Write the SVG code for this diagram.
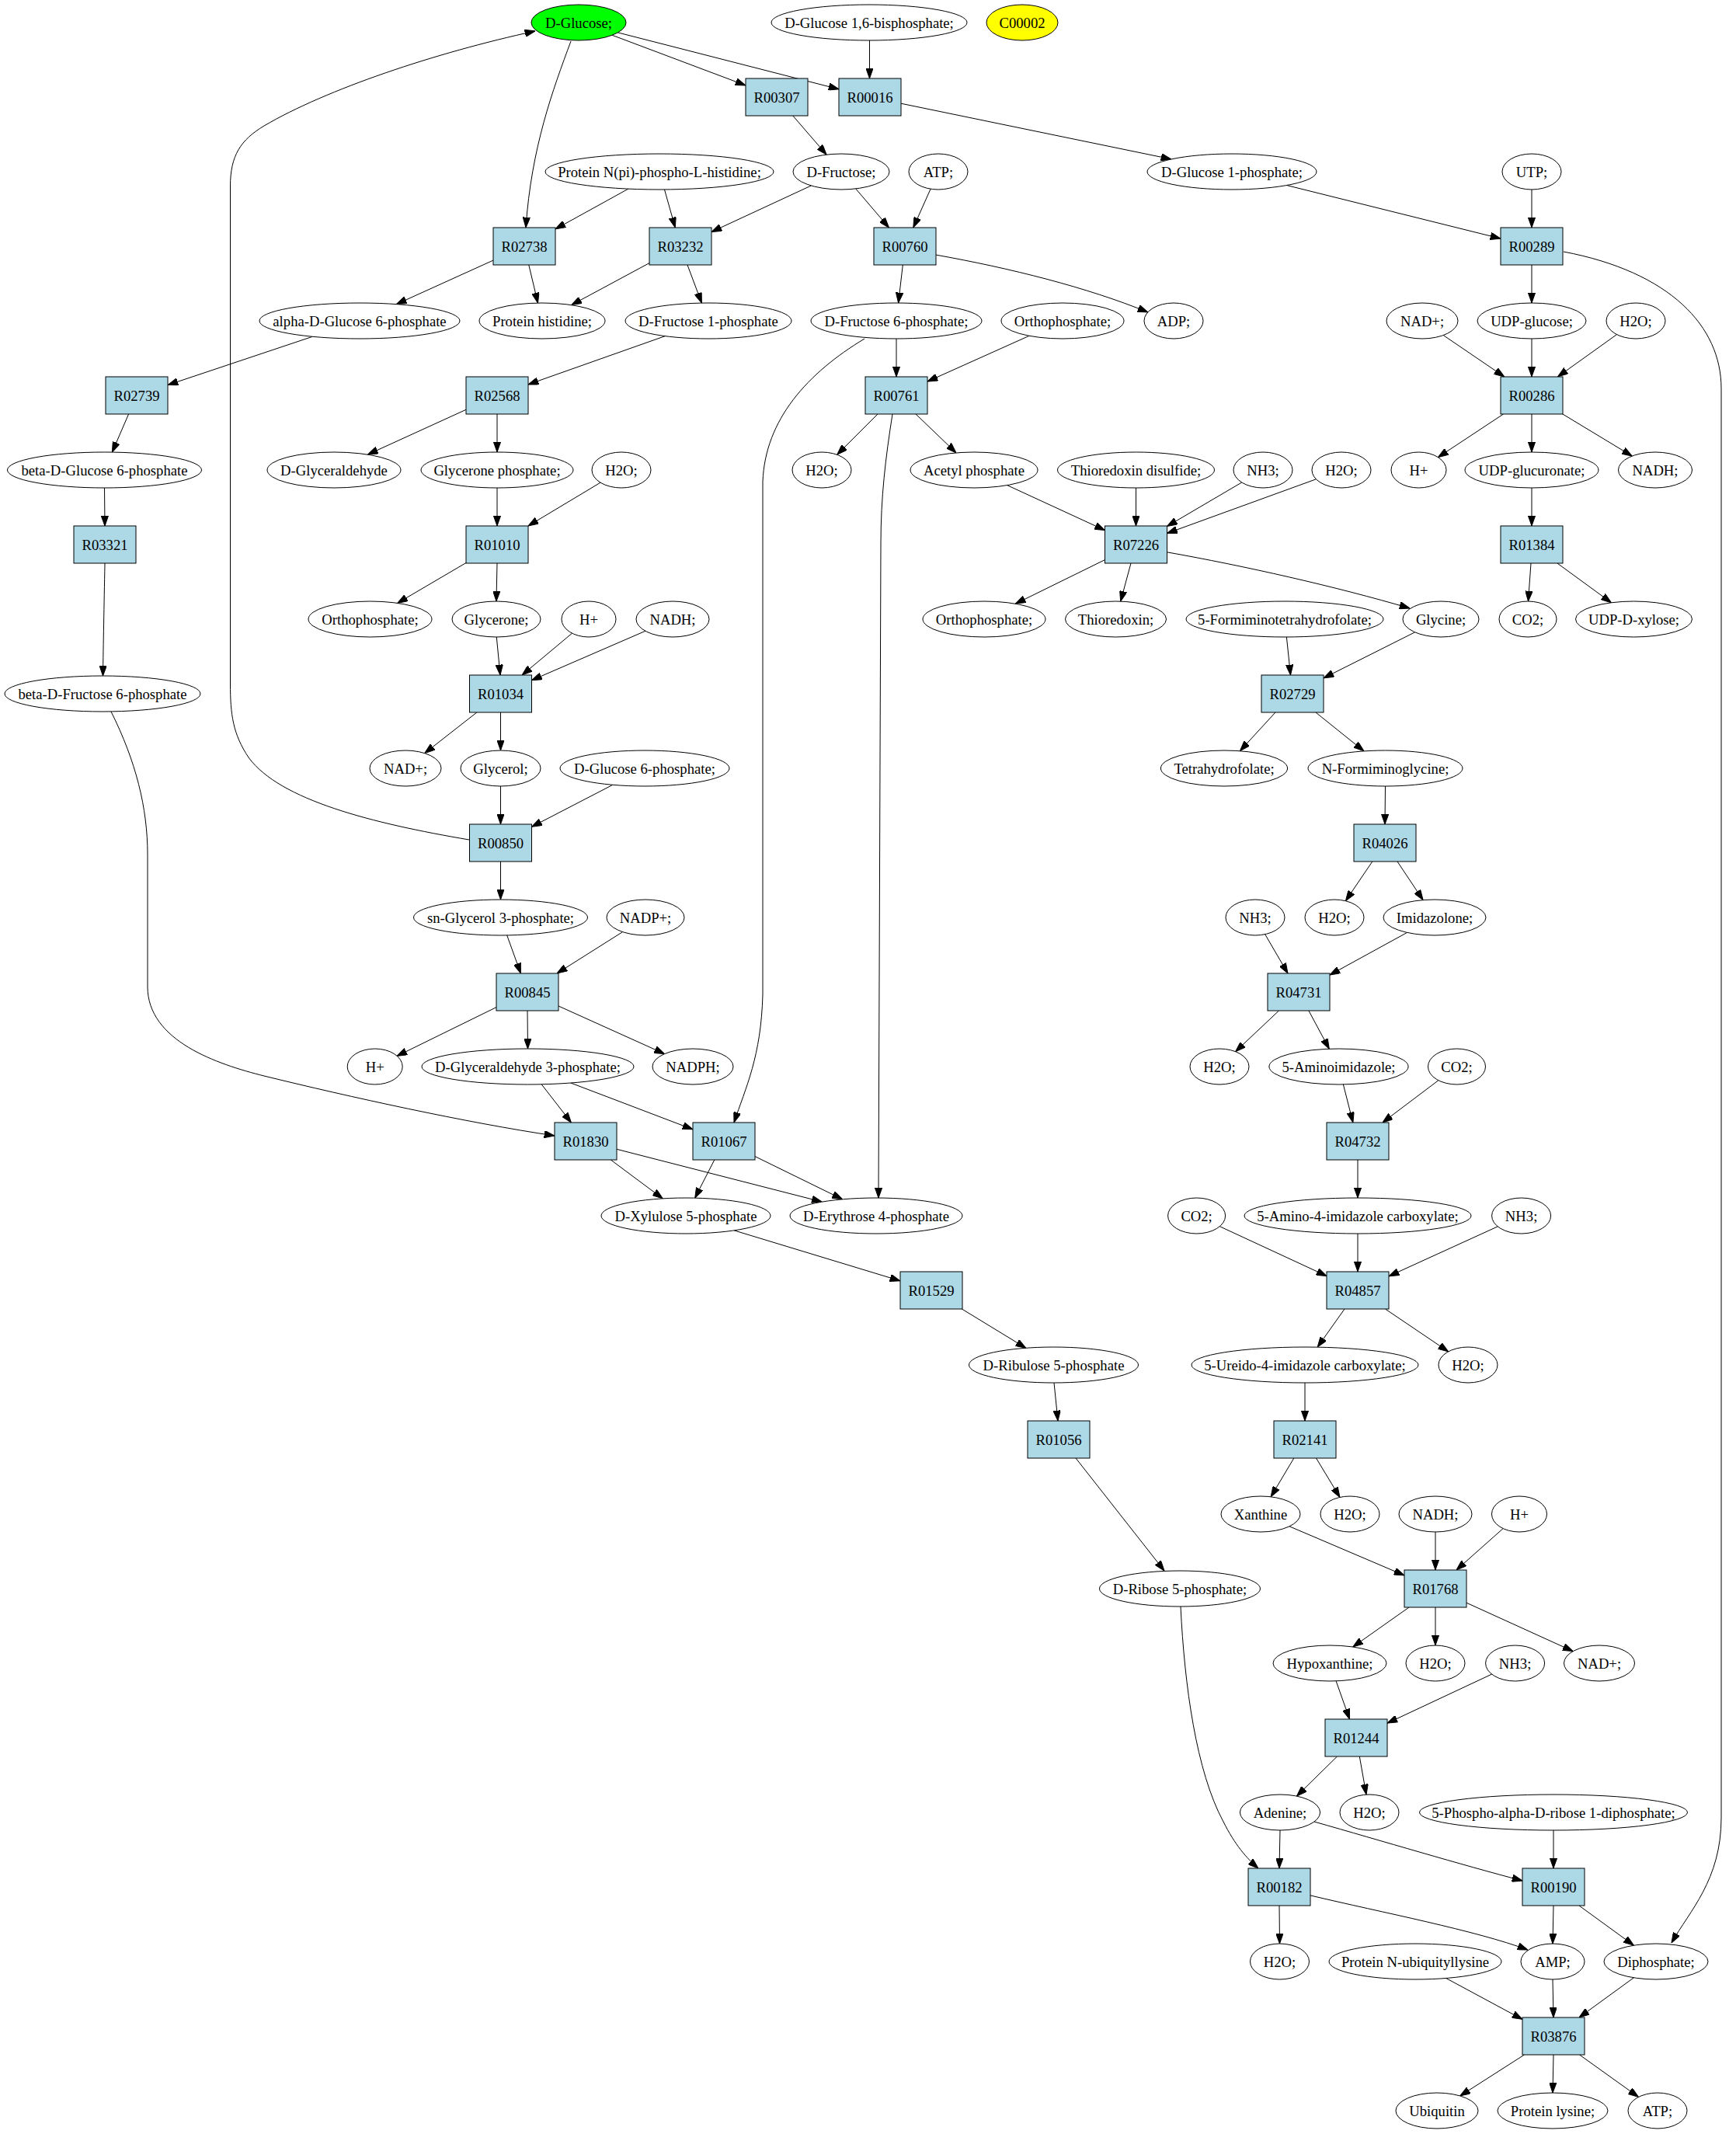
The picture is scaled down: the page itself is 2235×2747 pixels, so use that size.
<svg xmlns="http://www.w3.org/2000/svg" width="2235" height="2747" viewBox="0 0 2235 2747">
<style>
.c ellipse{fill:#fff;stroke:#000;stroke-width:1}
.r rect{fill:#add8e6;stroke:#000;stroke-width:1}
text{font-family:"Liberation Serif","Times New Roman",serif;font-size:18.67px;text-anchor:middle;fill:#000}
#edges path{stroke:#000;stroke-width:1;fill:none;marker-end:url(#a)}
</style>
<defs>
<marker id="a" viewBox="0 0 13.3 9.4" markerWidth="13.3" markerHeight="9.4" refX="13.3" refY="4.7" orient="auto" markerUnits="userSpaceOnUse"><path d="M0,0 L13.3,4.7 L0,9.4 z" fill="#000" stroke="#000" stroke-width="1"/></marker>
</defs>
<rect width="2235" height="2747" fill="#fff"/>
<g id="edges">
<path d="M788.2,45.3 L960,109.9"/>
<path d="M795.5,41.9 L1080,114.8"/>
<path d="M735,53 C712,115 684,190 677,293"/>
<path d="M1119.5,52 L1119.5,101"/>
<path d="M1160,133.2 L1508,204.9"/>
<path d="M1020.8,149 L1064.1,199.1"/>
<path d="M808.9,243.1 L715,294.9"/>
<path d="M855.5,244 L869.3,293"/>
<path d="M1044.3,239 L916,298.5"/>
<path d="M1101.7,242.9 L1144.5,293"/>
<path d="M1198.1,243.2 L1175.8,293"/>
<path d="M1656.5,238.5 L1932,307.1"/>
<path d="M1972,244 L1972,293"/>
<path d="M635,335.1 L510.3,391.6"/>
<path d="M680.8,341 L692.5,390.1"/>
<path d="M836,338.6 L735.7,392.6"/>
<path d="M885,341 L903.4,390.1"/>
<path d="M1162.3,341 L1156.6,390"/>
<path d="M1205,328.1 C1300,345 1400,370 1478,402"/>
<path d="M1972,341 L1972,390"/>
<path d="M2013,324 C2150,350 2216,420 2216,500 L2216,2340 C2216,2420 2175,2460 2152,2501"/>
<path d="M402.3,433.3 L216,495.6"/>
<path d="M856.3,432.6 L680,494.9"/>
<path d="M1154,436 L1154,485"/>
<path d="M1113,436 C1040,480 985,540 982,620 L982,1280 C980,1360 960,1400 945,1445"/>
<path d="M1325,432.3 L1194,491.1"/>
<path d="M1858.2,431.5 L1936.8,485"/>
<path d="M1972,436 L1972,485"/>
<path d="M2081.5,430.6 L2005.5,485"/>
<path d="M165.6,533 L144.4,582.1"/>
<path d="M600,527.3 L473.4,585.1"/>
<path d="M640,533 L640,582"/>
<path d="M1130,533 L1077.7,585.3"/>
<path d="M1179,533 L1231,582.9"/>
<path d="M1149,533 C1140,590 1134,640 1134,700 L1131,1542"/>
<path d="M1935.6,533 L1851.4,588.6"/>
<path d="M1972,533 L1972,582"/>
<path d="M2011.8,533 L2101.3,587.1"/>
<path d="M134.5,628 L135,677"/>
<path d="M640,628 L640,677"/>
<path d="M773,621.2 L680,677"/>
<path d="M1296.7,624.6 L1422.5,682.6"/>
<path d="M1462.5,628 L1462.5,677"/>
<path d="M1598.7,621 L1502.5,677.5"/>
<path d="M1694.4,616.8 L1502.5,686.5"/>
<path d="M1972,628 L1972,677"/>
<path d="M135,725 C134,780 133,830 132.5,870"/>
<path d="M600,724.5 L511.6,776.4"/>
<path d="M640,725 L639,774"/>
<path d="M1422.5,720.6 L1307.3,777.2"/>
<path d="M1456,725 L1442.7,774.1"/>
<path d="M1502.5,710.8 C1600,728 1720,755 1815,783"/>
<path d="M1971,725 L1967.5,774"/>
<path d="M2004.9,725 L2074.5,775.8"/>
<path d="M639.3,820 L644,869"/>
<path d="M736.5,815.2 L672.1,869"/>
<path d="M830.8,812.3 L684.5,875.7"/>
<path d="M1656.4,820 L1661.5,869"/>
<path d="M1821.6,813.8 L1704,872.9"/>
<path d="M143,916 C175,980 190,1040 190,1100 L190,1270 C190,1340 280,1370 340,1385 C450,1412 600,1445 714,1462"/>
<path d="M613.9,917 L546.7,969.6"/>
<path d="M644.5,917 L644.5,966"/>
<path d="M1642,917 L1596.4,966.7"/>
<path d="M1693.9,917 L1756,966.9"/>
<path d="M644.5,1012 L644.5,1061"/>
<path d="M788.8,1010.3 L684.5,1064.3"/>
<path d="M1783.5,1012 L1783,1061"/>
<path d="M604,1081 C480,1060 360,1030 320,975 C300,945 296.5,920 296.5,880 L296.5,240 C296.5,200 310,180 340,162 C420,115 560,68 689,40"/>
<path d="M644.5,1109 L644.5,1158"/>
<path d="M1766.8,1109 L1732.4,1159.7"/>
<path d="M1799,1109 L1832.1,1158.6"/>
<path d="M652.7,1203.9 L670.4,1253"/>
<path d="M801.6,1199.6 L717,1253"/>
<path d="M1628.7,1202.7 L1658,1253"/>
<path d="M1811.6,1200.4 L1712,1255"/>
<path d="M639,1296.6 L511,1359.4"/>
<path d="M679,1301 L679.5,1350"/>
<path d="M719,1295 L855.6,1356.6"/>
<path d="M1646.5,1301 L1590.6,1353.7"/>
<path d="M1684.9,1301 L1711.3,1350.2"/>
<path d="M697.2,1395.8 L735.4,1445"/>
<path d="M734.8,1394 L892,1453.8"/>
<path d="M1729.4,1396 L1741.9,1445"/>
<path d="M1851.9,1390.7 L1779.9,1445"/>
<path d="M786.3,1493 L853.3,1542.9"/>
<path d="M794,1479.3 L1058.3,1547.1"/>
<path d="M919.8,1493 L894.7,1542.1"/>
<path d="M972,1488.6 L1084.7,1543.8"/>
<path d="M1748,1493 L1748,1542"/>
<path d="M945.2,1583.9 L1159,1648.8"/>
<path d="M1570.3,1578.7 L1708,1642.5"/>
<path d="M1748,1588 L1748,1637"/>
<path d="M1928.3,1578.8 L1788,1642.8"/>
<path d="M1238.4,1685 L1320.8,1735.3"/>
<path d="M1731,1685 L1696.2,1734.1"/>
<path d="M1783.5,1685 L1864.7,1739.9"/>
<path d="M1357,1780 L1362,1829"/>
<path d="M1680,1780 L1680,1829"/>
<path d="M1385,1877 L1499,2022"/>
<path d="M1665.8,1877 L1636.2,1926.8"/>
<path d="M1694.5,1877 L1725,1927.4"/>
<path d="M1660,1964.8 L1808,2027.9"/>
<path d="M1848,1972 L1848,2021"/>
<path d="M1935.1,1967.6 L1875,2021"/>
<path d="M1520,2068 C1525,2170 1540,2280 1575,2345 C1590,2375 1605,2392 1620,2405"/>
<path d="M1814,2069 L1741.8,2120"/>
<path d="M1848,2069 L1848,2118"/>
<path d="M1888,2063.2 L2025.2,2125.6"/>
<path d="M1720.1,2163.9 L1737.5,2213"/>
<path d="M1920.6,2155.1 L1786,2218.2"/>
<path d="M1721.5,2261 L1669.4,2312.1"/>
<path d="M1750.3,2261 L1759,2310.1"/>
<path d="M1648,2356 L1647,2405"/>
<path d="M1692,2345 C1780,2370 1880,2400 1960,2421"/>
<path d="M2000,2356 L2000,2405"/>
<path d="M1647,2453 L1647.5,2502"/>
<path d="M1687,2439.9 C1780,2462 1900,2485 1967,2510"/>
<path d="M2000,2453 L1999,2502"/>
<path d="M2033,2453 L2103.4,2504.2"/>
<path d="M1861.8,2546.5 L1960,2599.4"/>
<path d="M1999,2548 L2000,2597"/>
<path d="M2103.4,2545.8 L2033,2597"/>
<path d="M1962.5,2645 L1879.7,2698"/>
<path d="M2000,2645 L1999,2694"/>
<path d="M2033.5,2645 L2109.5,2699.4"/>
</g>
<g id="n_dglucose" class="c"><ellipse cx="745" cy="29" rx="61" ry="23" style="fill:#00ff00"/><text x="745" y="35.5">D-Glucose;</text></g>
<g id="n_dglucose16bp" class="c"><ellipse cx="1119" cy="29" rx="126" ry="23"/><text x="1119" y="35.5">D-Glucose 1,6-bisphosphate;</text></g>
<g id="n_c00002" class="c"><ellipse cx="1316" cy="29" rx="46" ry="23" style="fill:#ffff00"/><text x="1316" y="35.5">C00002</text></g>
<g id="n_R00307" class="r"><rect x="960" y="101" width="80" height="48"/><text x="1000" y="131.5">R00307</text></g>
<g id="n_R00016" class="r"><rect x="1080" y="101" width="80" height="48"/><text x="1120" y="131.5">R00016</text></g>
<g id="n_protnpi" class="c"><ellipse cx="849" cy="221" rx="147" ry="23"/><text x="849" y="227.5">Protein N(pi)-phospho-L-histidine;</text></g>
<g id="n_dfructose" class="c"><ellipse cx="1083" cy="221" rx="62" ry="23"/><text x="1083" y="227.5">D-Fructose;</text></g>
<g id="n_atp1" class="c"><ellipse cx="1208" cy="221" rx="38" ry="23"/><text x="1208" y="227.5">ATP;</text></g>
<g id="n_dglucose1p" class="c"><ellipse cx="1586" cy="221" rx="109" ry="23"/><text x="1586" y="227.5">D-Glucose 1-phosphate;</text></g>
<g id="n_utp" class="c"><ellipse cx="1972" cy="221" rx="38" ry="23"/><text x="1972" y="227.5">UTP;</text></g>
<g id="n_R02738" class="r"><rect x="635" y="293" width="80" height="48"/><text x="675" y="323.5">R02738</text></g>
<g id="n_R03232" class="r"><rect x="836" y="293" width="80" height="48"/><text x="876" y="323.5">R03232</text></g>
<g id="n_R00760" class="r"><rect x="1125" y="293" width="80" height="48"/><text x="1165" y="323.5">R00760</text></g>
<g id="n_R00289" class="r"><rect x="1932" y="293" width="80" height="48"/><text x="1972" y="323.5">R00289</text></g>
<g id="n_alphag6p" class="c"><ellipse cx="463" cy="413" rx="129" ry="23"/><text x="463" y="419.5">alpha-D-Glucose 6-phosphate</text></g>
<g id="n_prothis" class="c"><ellipse cx="698" cy="413" rx="81" ry="23"/><text x="698" y="419.5">Protein histidine;</text></g>
<g id="n_dfru1p" class="c"><ellipse cx="912" cy="413" rx="107" ry="23"/><text x="912" y="419.5">D-Fructose 1-phosphate</text></g>
<g id="n_dfru6p" class="c"><ellipse cx="1154" cy="413" rx="110" ry="23"/><text x="1154" y="419.5">D-Fructose 6-phosphate;</text></g>
<g id="n_ortho1" class="c"><ellipse cx="1368" cy="413" rx="79" ry="23"/><text x="1368" y="419.5">Orthophosphate;</text></g>
<g id="n_adp" class="c"><ellipse cx="1511" cy="413" rx="38" ry="23"/><text x="1511" y="419.5">ADP;</text></g>
<g id="n_nad1" class="c"><ellipse cx="1831" cy="413" rx="46" ry="23"/><text x="1831" y="419.5">NAD+;</text></g>
<g id="n_udpglc" class="c"><ellipse cx="1972" cy="413" rx="70" ry="23"/><text x="1972" y="419.5">UDP-glucose;</text></g>
<g id="n_h2o1" class="c"><ellipse cx="2106" cy="413" rx="38" ry="23"/><text x="2106" y="419.5">H2O;</text></g>
<g id="n_R02739" class="r"><rect x="136" y="485" width="80" height="48"/><text x="176" y="515.5">R02739</text></g>
<g id="n_R02568" class="r"><rect x="600" y="485" width="80" height="48"/><text x="640" y="515.5">R02568</text></g>
<g id="n_R00761" class="r"><rect x="1114" y="485" width="80" height="48"/><text x="1154" y="515.5">R00761</text></g>
<g id="n_R00286" class="r"><rect x="1932" y="485" width="80" height="48"/><text x="1972" y="515.5">R00286</text></g>
<g id="n_betag6p" class="c"><ellipse cx="134.5" cy="605" rx="125" ry="23"/><text x="134.5" y="611.5">beta-D-Glucose 6-phosphate</text></g>
<g id="n_dglyald" class="c"><ellipse cx="430" cy="605" rx="86" ry="23"/><text x="430" y="611.5">D-Glyceraldehyde</text></g>
<g id="n_glyp" class="c"><ellipse cx="640" cy="605" rx="98" ry="23"/><text x="640" y="611.5">Glycerone phosphate;</text></g>
<g id="n_h2o2" class="c"><ellipse cx="800" cy="605" rx="38" ry="23"/><text x="800" y="611.5">H2O;</text></g>
<g id="n_h2o3" class="c"><ellipse cx="1058" cy="605" rx="38" ry="23"/><text x="1058" y="611.5">H2O;</text></g>
<g id="n_acetylp" class="c"><ellipse cx="1254" cy="605" rx="82" ry="23"/><text x="1254" y="611.5">Acetyl phosphate</text></g>
<g id="n_thiodis" class="c"><ellipse cx="1462.5" cy="605" rx="101" ry="23"/><text x="1462.5" y="611.5">Thioredoxin disulfide;</text></g>
<g id="n_nh3_1" class="c"><ellipse cx="1626" cy="605" rx="38" ry="23"/><text x="1626" y="611.5">NH3;</text></g>
<g id="n_h2o4" class="c"><ellipse cx="1727" cy="605" rx="38" ry="23"/><text x="1727" y="611.5">H2O;</text></g>
<g id="n_hplus1" class="c"><ellipse cx="1826.5" cy="605" rx="35.5" ry="23"/><text x="1826.5" y="611.5">H+</text></g>
<g id="n_udpglcur" class="c"><ellipse cx="1972" cy="605" rx="86" ry="23"/><text x="1972" y="611.5">UDP-glucuronate;</text></g>
<g id="n_nadh1" class="c"><ellipse cx="2131" cy="605" rx="47.5" ry="23"/><text x="2131" y="611.5">NADH;</text></g>
<g id="n_R03321" class="r"><rect x="95" y="677" width="80" height="48"/><text x="135" y="707.5">R03321</text></g>
<g id="n_R01010" class="r"><rect x="600" y="677" width="80" height="48"/><text x="640" y="707.5">R01010</text></g>
<g id="n_R07226" class="r"><rect x="1422.5" y="677" width="80" height="48"/><text x="1462.5" y="707.5">R07226</text></g>
<g id="n_R01384" class="r"><rect x="1932" y="677" width="80" height="48"/><text x="1972" y="707.5">R01384</text></g>
<g id="n_ortho2" class="c"><ellipse cx="476.5" cy="797" rx="79.5" ry="23"/><text x="476.5" y="803.5">Orthophosphate;</text></g>
<g id="n_glycerone" class="c"><ellipse cx="639" cy="797" rx="57" ry="23"/><text x="639" y="803.5">Glycerone;</text></g>
<g id="n_hplus2" class="c"><ellipse cx="758" cy="797" rx="35" ry="23"/><text x="758" y="803.5">H+</text></g>
<g id="n_nadh2" class="c"><ellipse cx="866" cy="797" rx="47" ry="23"/><text x="866" y="803.5">NADH;</text></g>
<g id="n_ortho3" class="c"><ellipse cx="1267" cy="797" rx="79" ry="23"/><text x="1267" y="803.5">Orthophosphate;</text></g>
<g id="n_thio" class="c"><ellipse cx="1436.5" cy="797" rx="65" ry="23"/><text x="1436.5" y="803.5">Thioredoxin;</text></g>
<g id="n_fthf" class="c"><ellipse cx="1654" cy="797" rx="127" ry="23"/><text x="1654" y="803.5">5-Formiminotetrahydrofolate;</text></g>
<g id="n_glycine" class="c"><ellipse cx="1855" cy="797" rx="49" ry="23"/><text x="1855" y="803.5">Glycine;</text></g>
<g id="n_co2_1" class="c"><ellipse cx="1967" cy="797" rx="37" ry="23"/><text x="1967" y="803.5">CO2;</text></g>
<g id="n_udpxyl" class="c"><ellipse cx="2103.5" cy="797" rx="75" ry="23"/><text x="2103.5" y="803.5">UDP-D-xylose;</text></g>
<g id="n_betaf6p" class="c"><ellipse cx="132" cy="893" rx="126" ry="23"/><text x="132" y="899.5">beta-D-Fructose 6-phosphate</text></g>
<g id="n_R01034" class="r"><rect x="604.5" y="869" width="80" height="48"/><text x="644.5" y="899.5">R01034</text></g>
<g id="n_R02729" class="r"><rect x="1624" y="869" width="80" height="48"/><text x="1664" y="899.5">R02729</text></g>
<g id="n_nad2" class="c"><ellipse cx="522" cy="989" rx="46" ry="23"/><text x="522" y="995.5">NAD+;</text></g>
<g id="n_glycerol" class="c"><ellipse cx="644.5" cy="989" rx="51.5" ry="23"/><text x="644.5" y="995.5">Glycerol;</text></g>
<g id="n_dg6p" class="c"><ellipse cx="830" cy="989" rx="109" ry="23"/><text x="830" y="995.5">D-Glucose 6-phosphate;</text></g>
<g id="n_thf" class="c"><ellipse cx="1576" cy="989" rx="81.6" ry="23"/><text x="1576" y="995.5">Tetrahydrofolate;</text></g>
<g id="n_nfgly" class="c"><ellipse cx="1783.5" cy="989" rx="99.5" ry="23"/><text x="1783.5" y="995.5">N-Formiminoglycine;</text></g>
<g id="n_R00850" class="r"><rect x="604.5" y="1061" width="80" height="48"/><text x="644.5" y="1091.5">R00850</text></g>
<g id="n_R04026" class="r"><rect x="1743" y="1061" width="80" height="48"/><text x="1783" y="1091.5">R04026</text></g>
<g id="n_sng3p" class="c"><ellipse cx="644.5" cy="1181" rx="112" ry="23"/><text x="644.5" y="1187.5">sn-Glycerol 3-phosphate;</text></g>
<g id="n_nadp" class="c"><ellipse cx="831" cy="1181" rx="50" ry="23"/><text x="831" y="1187.5">NADP+;</text></g>
<g id="n_nh3_2" class="c"><ellipse cx="1616" cy="1181" rx="38" ry="23"/><text x="1616" y="1187.5">NH3;</text></g>
<g id="n_h2o5" class="c"><ellipse cx="1718" cy="1181" rx="38" ry="23"/><text x="1718" y="1187.5">H2O;</text></g>
<g id="n_imidazolone" class="c"><ellipse cx="1847" cy="1181" rx="66" ry="23"/><text x="1847" y="1187.5">Imidazolone;</text></g>
<g id="n_R00845" class="r"><rect x="639" y="1253" width="80" height="48"/><text x="679" y="1283.5">R00845</text></g>
<g id="n_R04731" class="r"><rect x="1632" y="1253" width="80" height="48"/><text x="1672" y="1283.5">R04731</text></g>
<g id="n_hplus3" class="c"><ellipse cx="482.7" cy="1373" rx="35.5" ry="23"/><text x="482.7" y="1379.5">H+</text></g>
<g id="n_dga3p" class="c"><ellipse cx="679.5" cy="1373" rx="136.5" ry="23"/><text x="679.5" y="1379.5">D-Glyceraldehyde 3-phosphate;</text></g>
<g id="n_nadph" class="c"><ellipse cx="892" cy="1373" rx="52" ry="23"/><text x="892" y="1379.5">NADPH;</text></g>
<g id="n_h2o6" class="c"><ellipse cx="1570" cy="1373" rx="38" ry="23"/><text x="1570" y="1379.5">H2O;</text></g>
<g id="n_5ai" class="c"><ellipse cx="1723.5" cy="1373" rx="89.6" ry="23"/><text x="1723.5" y="1379.5">5-Aminoimidazole;</text></g>
<g id="n_co2_2" class="c"><ellipse cx="1875.5" cy="1373" rx="37" ry="23"/><text x="1875.5" y="1379.5">CO2;</text></g>
<g id="n_R01830" class="r"><rect x="714" y="1445" width="80" height="48"/><text x="754" y="1475.5">R01830</text></g>
<g id="n_R01067" class="r"><rect x="892" y="1445" width="80" height="48"/><text x="932" y="1475.5">R01067</text></g>
<g id="n_R04732" class="r"><rect x="1708" y="1445" width="80" height="48"/><text x="1748" y="1475.5">R04732</text></g>
<g id="n_dxyl5p" class="c"><ellipse cx="883" cy="1565" rx="109" ry="23"/><text x="883" y="1571.5">D-Xylulose 5-phosphate</text></g>
<g id="n_dery4p" class="c"><ellipse cx="1128" cy="1565" rx="111" ry="23"/><text x="1128" y="1571.5">D-Erythrose 4-phosphate</text></g>
<g id="n_co2_3" class="c"><ellipse cx="1540.6" cy="1565" rx="37" ry="23"/><text x="1540.6" y="1571.5">CO2;</text></g>
<g id="n_5a4ic" class="c"><ellipse cx="1748" cy="1565" rx="146" ry="23"/><text x="1748" y="1571.5">5-Amino-4-imidazole carboxylate;</text></g>
<g id="n_nh3_3" class="c"><ellipse cx="1958.6" cy="1565" rx="38" ry="23"/><text x="1958.6" y="1571.5">NH3;</text></g>
<g id="n_R01529" class="r"><rect x="1159" y="1637" width="80" height="48"/><text x="1199" y="1667.5">R01529</text></g>
<g id="n_R04857" class="r"><rect x="1708" y="1637" width="80" height="48"/><text x="1748" y="1667.5">R04857</text></g>
<g id="n_dribu5p" class="c"><ellipse cx="1356.5" cy="1757" rx="109" ry="23"/><text x="1356.5" y="1763.5">D-Ribulose 5-phosphate</text></g>
<g id="n_5u4ic" class="c"><ellipse cx="1680" cy="1757" rx="146" ry="23"/><text x="1680" y="1763.5">5-Ureido-4-imidazole carboxylate;</text></g>
<g id="n_h2o7" class="c"><ellipse cx="1890" cy="1757" rx="38" ry="23"/><text x="1890" y="1763.5">H2O;</text></g>
<g id="n_R01056" class="r"><rect x="1323" y="1829" width="80" height="48"/><text x="1363" y="1859.5">R01056</text></g>
<g id="n_R02141" class="r"><rect x="1640" y="1829" width="80" height="48"/><text x="1680" y="1859.5">R02141</text></g>
<g id="n_xanthine" class="c"><ellipse cx="1623" cy="1949" rx="51" ry="23"/><text x="1623" y="1955.5">Xanthine</text></g>
<g id="n_h2o8" class="c"><ellipse cx="1738" cy="1949" rx="38" ry="23"/><text x="1738" y="1955.5">H2O;</text></g>
<g id="n_nadh3" class="c"><ellipse cx="1848" cy="1949" rx="47" ry="23"/><text x="1848" y="1955.5">NADH;</text></g>
<g id="n_hplus4" class="c"><ellipse cx="1956" cy="1949" rx="35.5" ry="23"/><text x="1956" y="1955.5">H+</text></g>
<g id="n_drib5p" class="c"><ellipse cx="1519" cy="2045" rx="103.5" ry="23"/><text x="1519" y="2051.5">D-Ribose 5-phosphate;</text></g>
<g id="n_R01768" class="r"><rect x="1808" y="2021" width="80" height="48"/><text x="1848" y="2051.5">R01768</text></g>
<g id="n_hypox" class="c"><ellipse cx="1712" cy="2141" rx="73" ry="23"/><text x="1712" y="2147.5">Hypoxanthine;</text></g>
<g id="n_h2o9" class="c"><ellipse cx="1848" cy="2141" rx="38" ry="23"/><text x="1848" y="2147.5">H2O;</text></g>
<g id="n_nh3_4" class="c"><ellipse cx="1950.6" cy="2141" rx="38" ry="23"/><text x="1950.6" y="2147.5">NH3;</text></g>
<g id="n_nad3" class="c"><ellipse cx="2059" cy="2141" rx="45.5" ry="23"/><text x="2059" y="2147.5">NAD+;</text></g>
<g id="n_R01244" class="r"><rect x="1706" y="2213" width="80" height="48"/><text x="1746" y="2243.5">R01244</text></g>
<g id="n_adenine" class="c"><ellipse cx="1648" cy="2333" rx="51.6" ry="23"/><text x="1648" y="2339.5">Adenine;</text></g>
<g id="n_h2o10" class="c"><ellipse cx="1763" cy="2333" rx="38" ry="23"/><text x="1763" y="2339.5">H2O;</text></g>
<g id="n_prpp" class="c"><ellipse cx="2000" cy="2333" rx="172.5" ry="23"/><text x="2000" y="2339.5">5-Phospho-alpha-D-ribose 1-diphosphate;</text></g>
<g id="n_R00182" class="r"><rect x="1607" y="2405" width="80" height="48"/><text x="1647" y="2435.5">R00182</text></g>
<g id="n_R00190" class="r"><rect x="1960" y="2405" width="80" height="48"/><text x="2000" y="2435.5">R00190</text></g>
<g id="n_h2o11" class="c"><ellipse cx="1647.5" cy="2525" rx="38" ry="23"/><text x="1647.5" y="2531.5">H2O;</text></g>
<g id="n_protnub" class="c"><ellipse cx="1822" cy="2525" rx="111" ry="23"/><text x="1822" y="2531.5">Protein N-ubiquityllysine</text></g>
<g id="n_amp" class="c"><ellipse cx="1999" cy="2525" rx="41" ry="23"/><text x="1999" y="2531.5">AMP;</text></g>
<g id="n_diphos" class="c"><ellipse cx="2132" cy="2525" rx="67" ry="23"/><text x="2132" y="2531.5">Diphosphate;</text></g>
<g id="n_R03876" class="r"><rect x="1960" y="2597" width="80" height="48"/><text x="2000" y="2627.5">R03876</text></g>
<g id="n_ubiquitin" class="c"><ellipse cx="1850" cy="2717" rx="53" ry="23"/><text x="1850" y="2723.5">Ubiquitin</text></g>
<g id="n_protlys" class="c"><ellipse cx="1999" cy="2717" rx="71" ry="23"/><text x="1999" y="2723.5">Protein lysine;</text></g>
<g id="n_atp2" class="c"><ellipse cx="2134" cy="2717" rx="38" ry="23"/><text x="2134" y="2723.5">ATP;</text></g>
</svg>
